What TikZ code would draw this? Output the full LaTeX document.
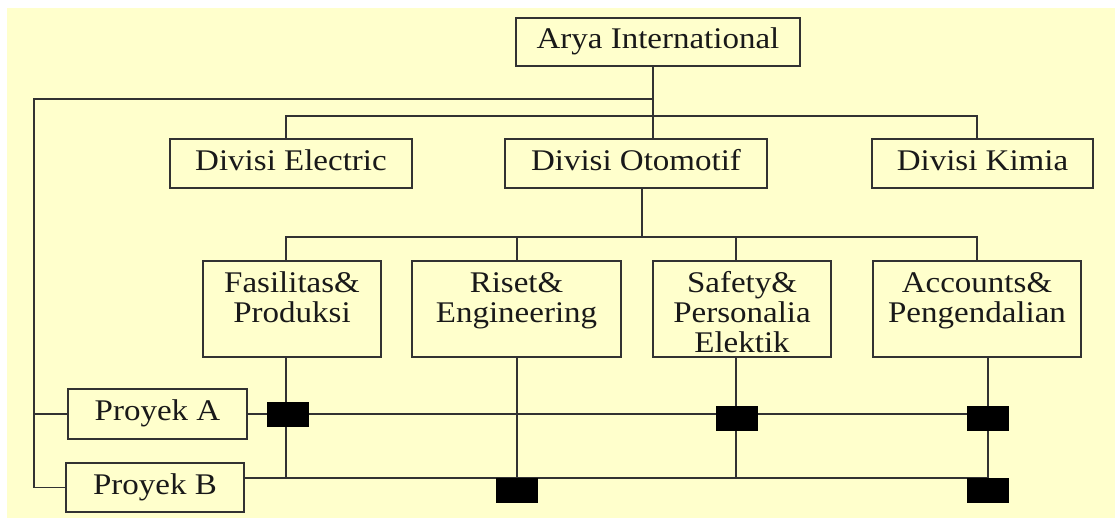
\documentclass[tikz,border=0pt]{standalone}
\usepackage{fontspec}
\setmainfont[FakeStretch=1.1]{Liberation Serif}
\definecolor{cream}{RGB}{255,255,204}
\definecolor{linegray}{RGB}{50,50,50}
\definecolor{ink}{RGB}{25,25,25}
% fixed-size box body: width, height, text (first baseline 31pt below the top)
\newcommand\unittext[3]{\parbox[c][#2][t]{#1}{\fontsize{30}{30}\selectfont\centering\rule{0pt}{31pt}#3}}
\begin{document}
\begin{tikzpicture}[x=1pt,y=-1pt,
  unit/.style={draw=linegray, line width=1.3pt, fill=cream, inner sep=0pt, text=ink},
  link/.style={draw=linegray, line width=1.3pt},
  marker/.style={fill=black, draw=none, minimum width=42pt, minimum height=25pt, inner sep=0pt}]

\useasboundingbox (0,0) rectangle (1115,519);
\fill[white] (0,0) rectangle (1115,519);
\fill[cream] (7,8) rectangle (1115,518);

% boxes
\node[unit] (arya)  at (658,42)    {\unittext{284pt}{48pt}{Arya International}};
\node[unit] (elec)  at (291,163.5) {\unittext{242pt}{49pt}{Divisi Electric}};
\node[unit] (oto)   at (636,163.5) {\unittext{262pt}{49pt}{Divisi Otomotif}};
\node[unit] (kimia) at (982.5,163.5) {\unittext{221pt}{49pt}{Divisi Kimia}};
\node[unit] (fas)   at (292,309)   {\unittext{178pt}{96pt}{Fasilitas\&\\Produksi}};
\node[unit] (ris)   at (516.5,309) {\unittext{209pt}{96pt}{Riset\&\\Engineering}};
\node[unit] (saf)   at (742,309)   {\unittext{178pt}{96pt}{Safety\&\\Personalia\\Elektik}};
\node[unit] (acc)   at (977,309)   {\unittext{208pt}{96pt}{Accounts\&\\Pengendalian}};
\node[unit] (pa)    at (157.5,414) {\unittext{179pt}{50pt}{Proyek A}};
\node[unit] (pb)    at (155,487.5) {\unittext{178pt}{49pt}{Proyek B}};

% connector columns and rows
\coordinate (cTrunk) at (653,0);
\coordinate (cOto)   at (642,0);
\coordinate (cFas)   at (286,0);
\coordinate (cRis)   at (517,0);
\coordinate (cSaf)   at (736,0);
\coordinate (cRight) at (977,0);
\coordinate (cAcc)   at (988,0);
\coordinate (cLeft)  at (34,0);
\coordinate (rTop)   at (0,99);
\coordinate (rDiv)   at (0,116);
\coordinate (rSub)   at (0,237);
\coordinate (rB)     at (0,478);

% hierarchy
\draw[link] (arya.south -| cTrunk) -- (oto.north -| cTrunk);
\draw[link] (cTrunk |- rTop) -| (cLeft |- pa.west) -- (pa.west);
\draw[link] (cLeft |- pa.west) |- (pb.west);
\draw[link] (elec.north -| cFas) -- (cFas |- rDiv) -- (cRight |- rDiv) -- (kimia.north -| cRight);
\draw[link] (oto.south -| cOto) -- (cOto |- rSub);
\draw[link] (fas.north -| cFas) -- (cFas |- rSub) -- (cRight |- rSub) -- (acc.north -| cRight);
\draw[link] (ris.north -| cRis) -- (cRis |- rSub);
\draw[link] (saf.north -| cSaf) -- (cSaf |- rSub);

% matrix lines
\draw[link] (fas.south -| cFas) -- (cFas |- rB);
\draw[link] (ris.south -| cRis) -- (cRis |- rB);
\draw[link] (saf.south -| cSaf) -- (cSaf |- rB);
\draw[link] (acc.south -| cAcc) -- (cAcc |- rB);
\draw[link] (pa.east) -- (cAcc |- pa.east);
\draw[link] (pb.east |- rB) -- (cAcc |- rB);

% project markers
\node[marker] (ma1) at (288,414.5)   {};
\node[marker] (ma2) at (736.5,418.5) {};
\node[marker] (ma3) at (987.5,418.5) {};
\node[marker] (mb1) at (517,490.5)   {};
\node[marker] (mb3) at (987.5,490.5) {};
\end{tikzpicture}
\end{document}
